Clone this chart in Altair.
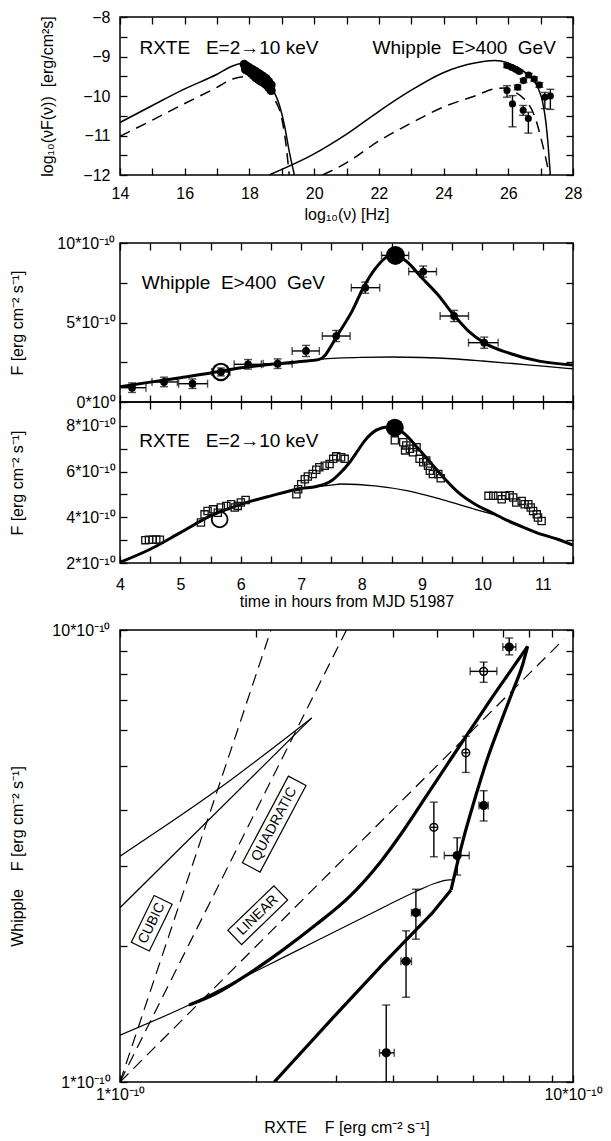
import altair as alt
import pandas as pd

FONT = 'Liberation Sans'
TICK = 7
W = 453
NB = '\u00a0'

# ---------------- panel 1: spectral energy distribution ----------------
sed_sync_x = [14.0, 15.0, 16.0, 17.0, 17.48, 17.75, 18.0, 18.3, 18.55, 18.72, 18.93, 19.08, 19.23, 19.39]
sed_sync_y = [-10.67, -10.24, -9.82, -9.45, -9.24, -9.18, -9.21, -9.33, -9.55, -9.82, -10.24, -10.73, -11.4, -12.0]
sed_sync_lo_x = [14.0, 15.0, 16.0, 17.0, 17.48, 17.84, 18.1, 18.41, 18.77, 19.0, 19.13, 19.23]
sed_sync_lo_y = [-11.02, -10.61, -10.19, -9.78, -9.57, -9.51, -9.55, -9.7, -10.07, -10.57, -11.23, -12.0]
sed_ic_x = [18.61, 19.97, 20.98, 21.98, 22.99, 23.99, 25.0, 25.57, 25.98, 26.39, 26.7, 26.91, 27.06, 27.16, 27.23, 27.3]
sed_ic_y = [-12.0, -11.48, -10.98, -10.4, -9.86, -9.41, -9.16, -9.1, -9.16, -9.33, -9.53, -9.78, -10.15, -10.65, -11.23, -12.0]
sed_ic_lo_x = [20.26, 20.98, 21.98, 22.99, 23.99, 25.0, 25.57, 25.9, 26.2, 26.5, 26.8, 27.06, 27.27]
sed_ic_lo_y = [-12.0, -11.7, -11.15, -10.69, -10.28, -9.99, -9.82, -9.8, -9.9, -10.08, -10.48, -11.23, -12.0]

sed_rxte_x = [17.84, 17.92, 18.0, 18.1, 18.2, 18.28, 18.35, 18.43, 18.51, 18.59, 18.67,
              17.88, 17.97, 18.05, 18.13, 18.2, 18.28, 18.35, 18.43, 18.51, 18.59, 18.67]
sed_rxte_y = [-9.2, -9.25, -9.29, -9.34, -9.39, -9.43, -9.47, -9.51, -9.56, -9.63, -9.72,
              -9.33, -9.37, -9.42, -9.48, -9.54, -9.58, -9.62, -9.66, -9.71, -9.78, -9.86]

sed_whip_x = [25.96, 26.11, 26.24, 26.34, 26.29, 26.47, 26.63, 26.8, 26.96, 27.13, 27.3, 25.96, 26.13, 26.46, 26.62]
sed_whip_y = [-9.23, -9.28, -9.33, -9.38, -9.78, -9.61, -9.47, -9.57, -9.72, -10.03, -10.0, -9.86, -10.2, -10.36, -10.57]
sed_whip_lo = [-9.28, -9.32, -9.37, -9.42, -9.84, -9.66, -9.51, -9.62, -9.78, -10.32, -10.34, -10.03, -10.78, -10.49, -10.94]
sed_whip_hi = [-9.18, -9.24, -9.29, -9.34, -9.72, -9.56, -9.43, -9.52, -9.66, -9.91, -9.83, -9.74, -9.99, -10.24, -10.41]

sed_xticks = list(range(14, 29))
sed_yticks = [-12, -11.5, -11, -10.5, -10, -9.5, -9, -8.5, -8]

# ---------------- panel 2: Whipple light curve ----------------
lcw_x = [4.2, 4.73, 5.2, 5.67, 6.12, 6.61, 7.08, 7.58, 8.06, 9.02, 9.53, 10.03]
lcw_y = [0.9, 1.26, 1.15, 1.89, 2.37, 2.41, 3.21, 4.15, 7.19, 8.2, 5.41, 3.73]
lcw_xlo = [3.97, 4.53, 4.97, 5.52, 5.89, 6.37, 6.85, 7.35, 7.83, 8.78, 9.3, 9.77]
lcw_xhi = [4.43, 4.95, 5.45, 5.82, 6.34, 6.85, 7.3, 7.81, 8.3, 9.24, 9.77, 10.26]
lcw_ylo = [0.6, 0.96, 0.85, 1.64, 2.07, 2.11, 2.86, 3.8, 6.84, 7.85, 5.06, 3.38]
lcw_yhi = [1.2, 1.56, 1.45, 2.14, 2.67, 2.71, 3.56, 4.5, 7.54, 8.55, 5.76, 4.08]
lcw_peak_x = [8.56]
lcw_peak_y = [9.22]
lcw_peak_xlo = [8.33]
lcw_peak_xhi = [8.78]
lcw_peak_ylo = [8.9]
lcw_peak_yhi = [9.55]
lcw_ring_x = [5.67]
lcw_ring_y = [1.89]

lcw_fit_x = [4.0, 4.5, 5.0, 5.5, 6.0, 6.5, 7.0, 7.3, 7.4, 7.5, 7.6, 7.84, 8.03, 8.23, 8.39, 8.52,
             8.74, 9.0, 9.26, 9.52, 9.77, 10.03, 10.42, 10.94, 11.5]
lcw_fit_y = [0.96, 1.25, 1.53, 1.82, 2.15, 2.37, 2.55, 2.68, 2.95, 3.55, 4.2, 5.7, 7.2, 8.4, 9.05, 9.27,
             8.85, 7.8, 6.76, 5.5, 4.46, 3.72, 3.1, 2.57, 2.32]
lcw_base_x = [7.0, 7.3, 7.6, 8.0, 8.5, 9.0, 9.5, 10.0, 10.5, 11.0, 11.5]
lcw_base_y = [2.55, 2.68, 2.76, 2.81, 2.83, 2.8, 2.72, 2.58, 2.42, 2.25, 2.09]

# ---------------- panel 3: RXTE light curve ----------------
lcx_x = [4.42, 4.48, 4.54, 4.6, 4.66,
         5.34, 5.4, 5.45, 5.54, 5.62, 5.67, 5.76, 5.84, 5.9, 5.95, 6.0, 6.08,
         6.92, 6.95, 7.0, 7.06, 7.11, 7.19, 7.25, 7.3, 7.39, 7.47, 7.53, 7.58, 7.66, 7.72,
         8.55, 8.69, 8.74, 8.72, 8.8, 8.85, 8.91, 8.96, 9.02, 9.07, 9.1, 9.13, 9.18, 9.27, 9.31,
         10.1, 10.18, 10.26, 10.32, 10.38, 10.45, 10.51, 10.56, 10.65, 10.7, 10.76, 10.8, 10.84, 10.9, 10.92, 10.98]
lcx_y = [3.0, 3.02, 3.02, 3.03, 3.02,
         3.77, 4.13, 4.28, 4.35, 4.2, 4.43, 4.5, 4.57, 4.43, 4.5, 4.65, 4.76,
         5.01, 5.23, 5.45, 5.67, 5.79, 5.9, 6.08, 6.19, 6.26, 6.33, 6.56, 6.67, 6.63, 6.56,
         7.37, 7.29, 7.15, 6.93, 7.0, 6.85, 7.07, 6.56, 6.41, 6.49, 6.26, 6.04, 5.9, 5.9, 5.71,
         4.94, 4.94, 4.94, 4.79, 4.94, 4.97, 4.87, 4.65, 4.72, 4.57, 4.57, 4.43, 4.28, 4.13, 3.99, 3.84]
lcx_peak_x = [8.55]
lcx_peak_y = [7.93]
lcx_ring_x = [5.65]
lcx_ring_y = [3.91]

lcx_fit_x = [4.0, 4.49, 5.0, 5.5, 6.0, 6.5, 7.0, 7.25, 7.5, 7.65, 7.8, 7.94, 8.05, 8.16, 8.33, 8.45, 8.58,
             8.71, 8.94, 9.16, 9.38, 9.6, 9.88, 10.15, 10.43, 10.7, 10.98, 11.26, 11.5]
lcx_fit_y = [2.03, 2.59, 3.33, 4.06, 4.57, 4.94, 5.26, 5.35, 5.6, 5.95, 6.4, 6.93, 7.35, 7.66, 7.91, 7.95, 7.88,
             7.66, 7.0, 6.34, 5.68, 5.09, 4.57, 4.21, 3.84, 3.54, 3.25, 3.03, 2.78]
lcx_base_x = [7.0, 7.25, 7.5, 7.66, 8.22, 8.77, 9.32, 9.88, 10.26, 10.7]
lcx_base_y = [5.26, 5.35, 5.41, 5.46, 5.38, 5.16, 4.79, 4.35, 4.06, 3.54]

lc_xticks = [4, 4.5, 5, 5.5, 6, 6.5, 7, 7.5, 8, 8.5, 9, 9.5, 10, 10.5, 11, 11.5]
lcw_yticks = [0, 2.5, 5, 7.5, 10]
lcx_yticks = [2, 3, 4, 5, 6, 7, 8]

# ---------------- panel 4: Whipple vs RXTE ----------------
cor_up_x = [1.42, 1.63, 1.93, 2.29, 2.71, 3.21, 3.77, 4.24, 4.78, 5.38, 5.96, 6.59, 7.3, 7.94]
cor_up_y = [1.48, 1.57, 1.74, 1.96, 2.23, 2.57, 3.08, 3.62, 4.34, 5.19, 6.05, 7.03, 8.15, 9.2]
cor_down_x = [7.94, 7.74, 7.36, 6.94, 6.48, 6.05, 5.75, 5.52, 5.38]
cor_down_y = [9.2, 8.38, 7.32, 6.28, 5.21, 4.18, 3.5, 2.97, 2.66]
cor_tail_x = [5.38, 4.9, 3.8, 2.95, 2.19]
cor_tail_y = [2.66, 2.37, 1.82, 1.386, 1.0]
cor_thin_x = [1.0, 1.42, 1.93, 2.71, 3.8, 4.5, 5.0, 5.33, 5.43]
cor_thin_y = [1.27, 1.48, 1.73, 2.05, 2.43, 2.64, 2.76, 2.8, 2.8]
cor_a_x = [1.0, 1.64, 2.65]
cor_a_y = [3.16, 4.43, 6.39]
cor_b_x = [1.0, 2.65]
cor_b_y = [2.43, 6.39]
cor_lin_x = [1.0, 9.55]
cor_lin_y = [1.0, 9.55]
cor_quad_x = [1.0, 3.162]
cor_quad_y = [1.0, 10.0]
cor_cub_x = [1.0, 2.154]
cor_cub_y = [1.0, 10.0]

cor_fill_x = [7.23, 6.35, 5.55, 4.5, 4.28, 3.87]
cor_fill_y = [9.17, 4.09, 3.17, 2.37, 1.85, 1.16]
cor_fill_xlo = [7.0, 6.2, 5.2, 4.4, 4.17, 3.74]
cor_fill_xhi = [7.48, 6.5, 5.9, 4.6, 4.4, 4.03]
cor_fill_ylo = [8.81, 3.78, 2.87, 2.07, 1.54, 1.0]
cor_fill_yhi = [9.6, 4.41, 3.47, 2.67, 2.16, 1.48]
cor_open_x = [6.35, 5.8, 4.93]
cor_open_y = [8.1, 5.35, 3.66]
cor_open_ylo = [7.66, 4.84, 3.15]
cor_open_yhi = [8.49, 5.82, 4.16]
cor_open_xlo = [5.93]
cor_open_xhi = [6.79]
cor_cross_xlo = [5.72, 4.86]
cor_cross_xhi = [5.88, 5.0]

cor_ticks = [1, 2, 3, 4, 5, 6, 7, 8, 9, 10]
box_names = ['CUBIC', 'QUADRATIC', 'LINEAR']
box_x = [1.175, 2.19, 2.014]
box_y = [2.245, 3.72, 2.339]


def axis(orient, values, expr=None, **kw):
    opts = dict(orient=orient, values=values, tickSize=TICK, offset=-TICK, domain=False,
                grid=False, tickColor='black', tickWidth=1.3, title=None,
                labelFlush=False, labelOverlap=False)
    if expr is None:
        opts['labels'] = False
    else:
        opts['labelExpr'] = expr
    opts.update(kw)
    return alt.Axis(**opts)


def frame(xs, ys, xd, yd, bottom, left, top, right):
    df = pd.DataFrame({'x': xd, 'y': yd})
    a = alt.Chart(df).mark_point(opacity=0).encode(
        x=alt.X('x:Q', scale=xs, axis=bottom), y=alt.Y('y:Q', scale=ys, axis=left))
    b = alt.Chart(df).mark_point(opacity=0).encode(
        x=alt.X('x:Q', scale=xs, axis=top), y=alt.Y('y:Q', scale=ys, axis=right))
    return [a, b]


def enc(xs, ys):
    return dict(x=alt.X('x:Q', scale=xs, axis=None), y=alt.Y('y:Q', scale=ys, axis=None))


def line(xv, yv, xs, ys, width, dash=None, interp='monotone'):
    df = pd.DataFrame({'x': xv, 'y': yv, 'i': list(range(len(xv)))})
    kw = dict(color='black', strokeWidth=width, clip=True, interpolate=interp, strokeJoin='round')
    if dash:
        kw['strokeDash'] = dash
    return alt.Chart(df).mark_line(**kw).encode(order='i:Q', **enc(xs, ys))


def dots(xv, yv, xs, ys, size, filled=True, shape='circle', width=1.2, color='black'):
    df = pd.DataFrame({'x': xv, 'y': yv})
    return alt.Chart(df).mark_point(shape=shape, filled=filled, size=size, color=color, opacity=1,
                                    strokeWidth=width, clip=True).encode(**enc(xs, ys))


def xbars(lo, hi, yv, xs, ys, caps=True):
    df = pd.DataFrame({'lo': lo, 'hi': hi, 'y': yv})
    mk = dict(thickness=1.4, color='black', clip=True)
    mk['ticks'] = {'size': 8} if caps else False
    return alt.Chart(df).mark_errorbar(**mk).encode(
        x=alt.X('lo:Q', scale=xs, axis=None), x2='hi:Q', y=alt.Y('y:Q', scale=ys, axis=None))


def ybars(xv, lo, hi, xs, ys):
    df = pd.DataFrame({'x': xv, 'lo': lo, 'hi': hi})
    return alt.Chart(df).mark_errorbar(ticks={'size': 8}, thickness=1.4, color='black', clip=True).encode(
        y=alt.Y('lo:Q', scale=ys, axis=None), y2='hi:Q', x=alt.X('x:Q', scale=xs, axis=None))


def label(xv, yv, text, xs, ys, align='left', size=19, angle=0):
    df = pd.DataFrame({'x': [xv], 'y': [yv], 't': [text]})
    return alt.Chart(df).mark_text(align=align, baseline='middle', fontSize=size, angle=angle,
                                   color='black').encode(text='t:N', **enc(xs, ys))


# ---------- panel 1 ----------
xs1 = alt.Scale(domain=[14, 28], nice=False, zero=False)
ys1 = alt.Scale(domain=[-12, -8], nice=False, zero=False)
p1 = alt.layer(
    *frame(xs1, ys1, [14, 28], [-12, -8],
           axis('bottom', sed_xticks, "datum.value % 2 == 0 ? format(datum.value, 'd') : ''",
                title='log₁₀(ν) [Hz]', labelPadding=10, titleY=46, titleBaseline='middle'),
           axis('left', sed_yticks, "datum.value % 1 == 0 ? format(datum.value, 'd') : ''",
                title='log₁₀(νF(ν))' + NB + NB + '[erg/cm²s]', labelPadding=10, titleX=-80,
                titleBaseline='middle'),
           axis('top', sed_xticks), axis('right', sed_yticks)),
    line(sed_sync_x, sed_sync_y, xs1, ys1, 1.5),
    line(sed_sync_lo_x, sed_sync_lo_y, xs1, ys1, 1.5, dash=[11, 7]),
    line(sed_ic_x, sed_ic_y, xs1, ys1, 1.5),
    line(sed_ic_lo_x, sed_ic_lo_y, xs1, ys1, 1.5, dash=[11, 7]),
    dots(sed_rxte_x, sed_rxte_y, xs1, ys1, 85),
    ybars(sed_whip_x, sed_whip_lo, sed_whip_hi, xs1, ys1),
    dots(sed_whip_x, sed_whip_y, xs1, ys1, 50),
    label(14.6, -8.79, 'RXTE' + NB * 3 + 'E=2→10' + NB + 'keV', xs1, ys1),
    label(27.47, -8.79, 'Whipple' + NB * 2 + 'E>400' + NB * 2 + 'GeV', xs1, ys1, align='right'),
).resolve_axis(x='independent', y='independent').properties(width=W, height=158)

# ---------- panel 2 ----------
xs2 = alt.Scale(domain=[4, 11.5], nice=False, zero=False)
ys2 = alt.Scale(domain=[0, 10], nice=False, zero=False)
p2 = alt.layer(
    *frame(xs2, ys2, [4, 11.5], [0, 10],
           axis('bottom', lc_xticks),
           axis('left', lcw_yticks,
                "datum.value == 0 ? '0*10⁰' : (datum.value % 5 == 0 ? format(datum.value, 'd') + '*10⁻¹⁰' : '')",
                title='F [erg cm⁻² s⁻¹]', labelPadding=5, titleX=-110, titleBaseline='middle'),
           axis('top', lc_xticks), axis('right', lcw_yticks)),
    line(lcw_base_x, lcw_base_y, xs2, ys2, 1.3),
    line(lcw_fit_x, lcw_fit_y, xs2, ys2, 3),
    xbars(lcw_xlo, lcw_xhi, lcw_y, xs2, ys2),
    ybars(lcw_x, lcw_ylo, lcw_yhi, xs2, ys2),
    xbars(lcw_peak_xlo, lcw_peak_xhi, lcw_peak_y, xs2, ys2),
    ybars(lcw_peak_x, lcw_peak_ylo, lcw_peak_yhi, xs2, ys2),
    dots(lcw_x, lcw_y, xs2, ys2, 60),
    dots(lcw_peak_x, lcw_peak_y, xs2, ys2, 360),
    dots(lcw_ring_x, lcw_ring_y, xs2, ys2, 270, filled=False, width=2.2),
    label(4.36, 7.5, 'Whipple' + NB * 2 + 'E>400' + NB * 2 + 'GeV', xs2, ys2),
).resolve_axis(x='independent', y='independent').properties(width=W, height=159)

# ---------- panel 3 ----------
ys3 = alt.Scale(domain=[2, 9.05], nice=False, zero=False)
p3 = alt.layer(
    *frame(xs2, ys3, [4, 11.5], [2, 9.05],
           axis('bottom', lc_xticks, "datum.value % 1 == 0 ? format(datum.value, 'd') : ''",
                title='time in hours from MJD 51987', labelPadding=13, titleY=45, titleBaseline='middle'),
           axis('left', lcx_yticks, "datum.value % 2 == 0 ? format(datum.value, 'd') + '*10⁻¹⁰' : ''",
                title='F [erg cm⁻² s⁻¹]', labelPadding=5, titleX=-110, titleBaseline='middle'),
           axis('top', lc_xticks), axis('right', lcx_yticks)),
    line(lcx_base_x, lcx_base_y, xs2, ys3, 1.3),
    line(lcx_fit_x, lcx_fit_y, xs2, ys3, 3),
    dots(lcx_x, lcx_y, xs2, ys3, 52, filled=False, shape='square', width=1.3, color='#111111'),
    dots(lcx_peak_x, lcx_peak_y, xs2, ys3, 320),
    dots(lcx_ring_x, lcx_ring_y, xs2, ys3, 250, filled=False, width=1.8),
    label(4.32, 7.36, 'RXTE' + NB * 3 + 'E=2→10' + NB + 'keV', xs2, ys3),
).resolve_axis(x='independent', y='independent').properties(width=W, height=161)

# ---------- panel 4 ----------
xs4 = alt.Scale(type='log', domain=[1, 10], nice=False)
ys4 = alt.Scale(type='log', domain=[1, 10], nice=False)
cor_expr = "datum.value == 1 ? '1*10⁻¹⁰' : (datum.value == 10 ? '10*10⁻¹⁰' : '')"
boxes = [
    ('M-1,-0.385L1,-0.385L1,0.385L-1,0.385Z', 52 ** 2, 296),
    ('M-1,-0.204L1,-0.204L1,0.204L-1,0.204Z', 98 ** 2, 298),
    ('M-1,-0.31L1,-0.31L1,0.31L-1,0.31Z', 64 ** 2, 316),
]
box_layers = []
for name, bx, by, (path, area, ang) in zip(box_names, box_x, box_y, boxes):
    box_layers.append(alt.Chart(pd.DataFrame({'x': [bx], 'y': [by]})).mark_point(
        shape=path, size=area, angle=ang, filled=False, color='black', opacity=1, strokeWidth=1.2
    ).encode(**enc(xs4, ys4)))
    box_layers.append(label(bx, by, name, xs4, ys4, align='center', size=14, angle=ang))

p4 = alt.layer(
    *frame(xs4, ys4, [1, 10], [1, 10],
           axis('bottom', cor_ticks, cor_expr, title='RXTE' + NB * 4 + 'F [erg cm⁻² s⁻¹]',
                labelPadding=4, titleY=52, titleBaseline='middle'),
           axis('left', cor_ticks, cor_expr, title='Whipple' + NB * 4 + 'F [erg cm⁻² s⁻¹]',
                labelPadding=10, titleX=-110, titleBaseline='middle'),
           axis('top', cor_ticks), axis('right', cor_ticks)),
    line(cor_lin_x, cor_lin_y, xs4, ys4, 1.2, dash=[12, 7], interp='linear'),
    line(cor_quad_x, cor_quad_y, xs4, ys4, 1.2, dash=[12, 7], interp='linear'),
    line(cor_cub_x, cor_cub_y, xs4, ys4, 1.2, dash=[12, 7], interp='linear'),
    line(cor_a_x, cor_a_y, xs4, ys4, 1.2),
    line(cor_b_x, cor_b_y, xs4, ys4, 1.2, interp='linear'),
    line(cor_thin_x, cor_thin_y, xs4, ys4, 1.2),
    line(cor_up_x, cor_up_y, xs4, ys4, 3.2),
    line(cor_down_x, cor_down_y, xs4, ys4, 3.2),
    line(cor_tail_x, cor_tail_y, xs4, ys4, 3.2, interp='linear'),
    *box_layers,
    xbars(cor_fill_xlo, cor_fill_xhi, cor_fill_y, xs4, ys4),
    ybars(cor_fill_x, cor_fill_ylo, cor_fill_yhi, xs4, ys4),
    xbars(cor_open_xlo, cor_open_xhi, cor_open_y[:1], xs4, ys4),
    xbars(cor_cross_xlo, cor_cross_xhi, cor_open_y[1:], xs4, ys4, caps=False),
    ybars(cor_open_x, cor_open_ylo, cor_open_yhi, xs4, ys4),
    dots(cor_fill_x, cor_fill_y, xs4, ys4, 85),
    dots(cor_open_x, cor_open_y, xs4, ys4, 60, filled=False, width=1.5),
).resolve_axis(x='independent', y='independent').properties(width=W, height=452)


def spacer(h):
    return alt.Chart(pd.DataFrame({'x': [0]})).mark_point(opacity=0).encode(
        x=alt.value(0), y=alt.value(0)
    ).properties(width=W, height=h, view=alt.ViewBackground(strokeOpacity=0))


chart = alt.vconcat(p1, spacer(68), p2, p3, spacer(67), p4, spacing=0, bounds='flush').properties(
    padding={'left': 0, 'top': 0, 'right': 0, 'bottom': 0}
).configure(font=FONT).configure_view(
    stroke='black', strokeWidth=1.5
).configure_axis(
    labelFont=FONT, titleFont=FONT, labelFontSize=16, titleFontSize=16,
    titleFontWeight='normal', labelColor='black', titleColor='black'
)

chart.save('out.html', embed_options={'renderer': 'svg', 'actions': False})
